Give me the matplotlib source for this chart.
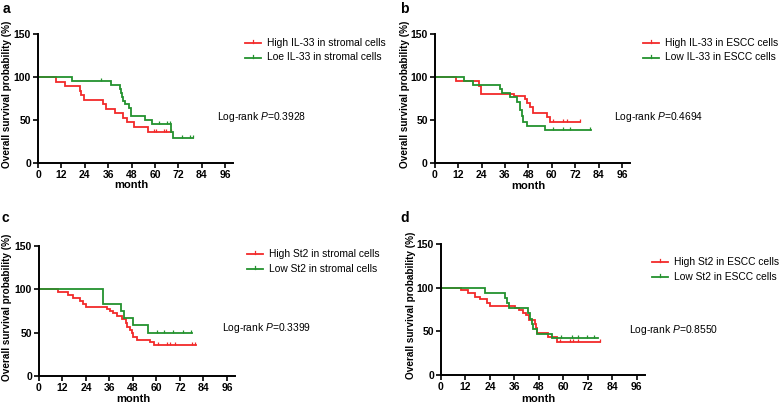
import numpy as np
import matplotlib
matplotlib.use("Agg")
import matplotlib.pyplot as plt
from matplotlib.lines import Line2D

plt.rcParams['font.family'] = ['Liberation Sans', 'DejaVu Sans']
plt.rcParams['mathtext.fontset'] = 'custom'
plt.rcParams['mathtext.rm'] = 'Liberation Sans'
plt.rcParams['mathtext.it'] = 'Liberation Sans:italic'

RED = '#f22a2a'
GREEN = '#23922e'

# ---- panel a: IL-33 in stromal cells ----
a_high_t = [9.4, 14.0, 21.4, 22.3, 23.6, 33.4, 34.8, 39.4, 43.6, 45.9, 49.3, 56.2]
a_high_s = [94.7, 89.5, 84.2, 78.9, 73.7, 68.4, 63.2, 57.9, 52.6, 47.4, 42.1, 36.8]
a_high_end = 68.5
a_high_cens = [59.4, 60.3, 64.6, 65.8, 68.5]
a_low_t = [17.5, 37.3, 41.9, 42.4, 43.1, 43.6, 44.5, 46.7, 47.6, 55.1, 58.5, 68.5, 69.3]
a_low_s = [95.5, 90.9, 86.4, 81.8, 77.3, 72.7, 68.2, 63.6, 54.5, 50.0, 45.5, 36.4, 29.5]
a_low_end = 79.6
a_low_cens = [32.5, 62.0, 66.3, 67.7, 73.9, 77.8, 79.6]

# ---- panel b: IL-33 in ESCC cells ----
b_high_t = [10.8, 22.6, 23.9, 40.5, 46.3, 47.5, 48.7, 50.4, 57.4, 59.0]
b_high_s = [95.0, 89.5, 80.0, 77.5, 74.0, 70.0, 65.0, 58.5, 53.5, 48.0]
b_high_end = 74.5
b_high_cens = [60.8, 65.9, 67.6, 74.5]
b_low_t = [15.2, 19.5, 33.4, 34.5, 38.6, 42.0, 43.7, 44.6, 45.4, 47.1, 56.5]
b_low_s = [95.2, 90.5, 85.7, 81.0, 76.5, 71.0, 62.0, 54.0, 48.0, 43.0, 38.5]
b_low_end = 79.9
b_low_cens = [60.8, 65.9, 69.3, 79.5]

# ---- panel c: St2 in stromal cells ----
c_high_t = [9.9, 14.9, 17.5, 20.9, 22.6, 24.0, 34.6, 36.3, 38.0, 40.0, 42.2, 44.4,
            45.1, 46.4, 47.3, 48.2, 49.9, 56.9, 58.6]
c_high_s = [96.6, 93.1, 89.7, 86.2, 82.8, 79.3, 77.6, 75.3, 72.3, 69.2, 65.4, 60.8,
            56.9, 53.0, 50.0, 45.3, 41.5, 39.6, 35.8]
c_high_end = 80.0
c_high_cens = [60.9, 65.2, 66.9, 69.5, 78.0, 79.7]
c_low_t = [32.8, 42.0, 43.6, 47.9, 55.6]
c_low_s = [83.3, 75.0, 66.7, 58.3, 50.0]
c_low_end = 78.0
c_low_cens = [60.1, 63.8, 68.3, 73.7, 77.9]

# ---- panel d: St2 in ESCC cells ----
d_high_t = [9.6, 13.4, 16.7, 19.1, 22.4, 24.0, 36.5, 38.5, 40.0, 41.5, 43.3, 45.9,
            46.5, 47.2, 52.7, 56.8]
d_high_s = [97.0, 93.5, 89.5, 86.5, 82.5, 79.0, 76.5, 74.0, 71.5, 68.5, 63.0, 58.5,
            54.0, 48.5, 43.5, 38.0]
d_high_end = 78.0
d_high_cens = [58.3, 63.2, 64.8, 67.2, 78.0]
d_low_t = [21.5, 31.6, 32.3, 33.5, 42.8, 43.6, 44.4, 45.2, 47.0, 54.4]
d_low_s = [94.1, 88.2, 82.4, 76.5, 70.6, 64.7, 58.8, 52.9, 47.1, 42.0]
d_low_end = 77.0
d_low_cens = [58.9, 64.2, 67.1, 71.5, 75.2]

panels = [
    dict(letter='a', rect=[0.0485, 0.597, 0.2485, 0.319],
         high=(a_high_t, a_high_s, a_high_end, a_high_cens),
         low=(a_low_t, a_low_s, a_low_end, a_low_cens),
         labels=['High IL-33 in stromal cells', 'Loe IL-33 in stromal cells'],
         p='0.3928', letter_xy=(3, 9), ylab_x=7, xlab_y=185,
         leg_xy=(245, 43), p_xy=(217, 117)),
    dict(letter='b', rect=[0.5545, 0.598, 0.2489, 0.318],
         high=(b_high_t, b_high_s, b_high_end, b_high_cens),
         low=(b_low_t, b_low_s, b_low_end, b_low_cens),
         labels=['High IL-33 in ESCC cells', 'Low IL-33 in ESCC cells'],
         p='0.4694', letter_xy=(400, 9), ylab_x=404.5, xlab_y=186,
         leg_xy=(643, 43), p_xy=(614, 117)),
    dict(letter='c', rect=[0.0497, 0.0716, 0.2497, 0.321],
         high=(c_high_t, c_high_s, c_high_end, c_high_cens),
         low=(c_low_t, c_low_s, c_low_end, c_low_cens),
         labels=['High St2 in stromal cells', 'Low St2 in stromal cells'],
         p='0.3399', letter_xy=(2, 218), ylab_x=7, xlab_y=399,
         leg_xy=(247, 254), p_xy=(222, 328)),
    dict(letter='d', rect=[0.5625, 0.074, 0.260, 0.3235],
         high=(d_high_t, d_high_s, d_high_end, d_high_cens),
         low=(d_low_t, d_low_s, d_low_end, d_low_cens),
         labels=['High St2 in ESCC cells', 'Low St2 in ESCC cells'],
         p='0.8550', letter_xy=(400, 218), ylab_x=411, xlab_y=399,
         leg_xy=(652, 262), p_xy=(629, 330)),
]

W, H = 784, 405
fig = plt.figure(figsize=(W / 100, H / 100), dpi=100)


def fx(px):
    return px / W


def fy(py):
    return 1 - py / H


def km_curve(ax, times, surv, end, cens, color):
    x = np.concatenate([[0], times, [end]])
    y = np.concatenate([[100], surv, [surv[-1]]])
    ax.step(x, y, where='post', color=color, lw=1.3, solid_joinstyle='miter')
    # censor marks sit on the current survival level
    cens = np.asarray(cens)
    idx = np.searchsorted(times, cens, side='right')
    levels = np.concatenate([[100], surv])[idx]
    ax.plot(cens, levels, linestyle='none', marker=2, color=color,
            markersize=2.5, markeredgewidth=0.9)


for pan in panels:
    ax = fig.add_axes(pan['rect'])
    km_curve(ax, *pan['high'], RED)
    km_curve(ax, *pan['low'], GREEN)
    ax.set_xlim(0, 100)
    ax.set_ylim(0, 150)
    ax.set_xticks(np.arange(0, 97, 12))
    ax.set_yticks([0, 50, 100, 150])
    for side in ['top', 'right']:
        ax.spines[side].set_visible(False)
    for side in ['left', 'bottom']:
        ax.spines[side].set_linewidth(1.4)
    ax.tick_params(direction='out', length=3.5, width=1.2, pad=1.5,
                   labelsize=7.5)
    for lab in ax.get_xticklabels() + ax.get_yticklabels():
        lab.set_fontweight('bold')
    ax.patch.set_alpha(0)

    lx, ly = pan['letter_xy']
    fig.text(fx(lx), fy(ly), pan['letter'], fontsize=10, fontweight='bold',
             ha='left', va='center')
    r = pan['rect']
    fig.text(fx(pan['ylab_x']), r[1] + r[3] / 2 + 0.01,
             'Overall survival probability (%)', rotation=90, fontsize=7.2,
             fontweight='bold', ha='center', va='center')
    fig.text(r[0] + r[2] * 0.48, fy(pan['xlab_y']), 'month', fontsize=8,
             fontweight='bold', ha='center', va='center')

    # legend drawn by hand: short line with a small censor tick in the middle
    gx, gy = pan['leg_xy']
    for k, (col, lab) in enumerate(zip([RED, GREEN], pan['labels'])):
        yy = gy + k * 14.5
        fig.add_artist(Line2D([fx(gx), fx(gx + 16)], [fy(yy), fy(yy)],
                              color=col, lw=1.3))
        fig.add_artist(Line2D([fx(gx + 8), fx(gx + 8)], [fy(yy), fy(yy - 3)],
                              color=col, lw=0.9))
        fig.text(fx(gx + 22), fy(yy), lab, fontsize=7.4, ha='left',
                 va='center')

    px, py = pan['p_xy']
    fig.text(fx(px), fy(py), 'Log-rank $\\it{P}$=' + pan['p'], fontsize=7.4,
             ha='left', va='center')

fig.savefig('out.png', dpi=100)
